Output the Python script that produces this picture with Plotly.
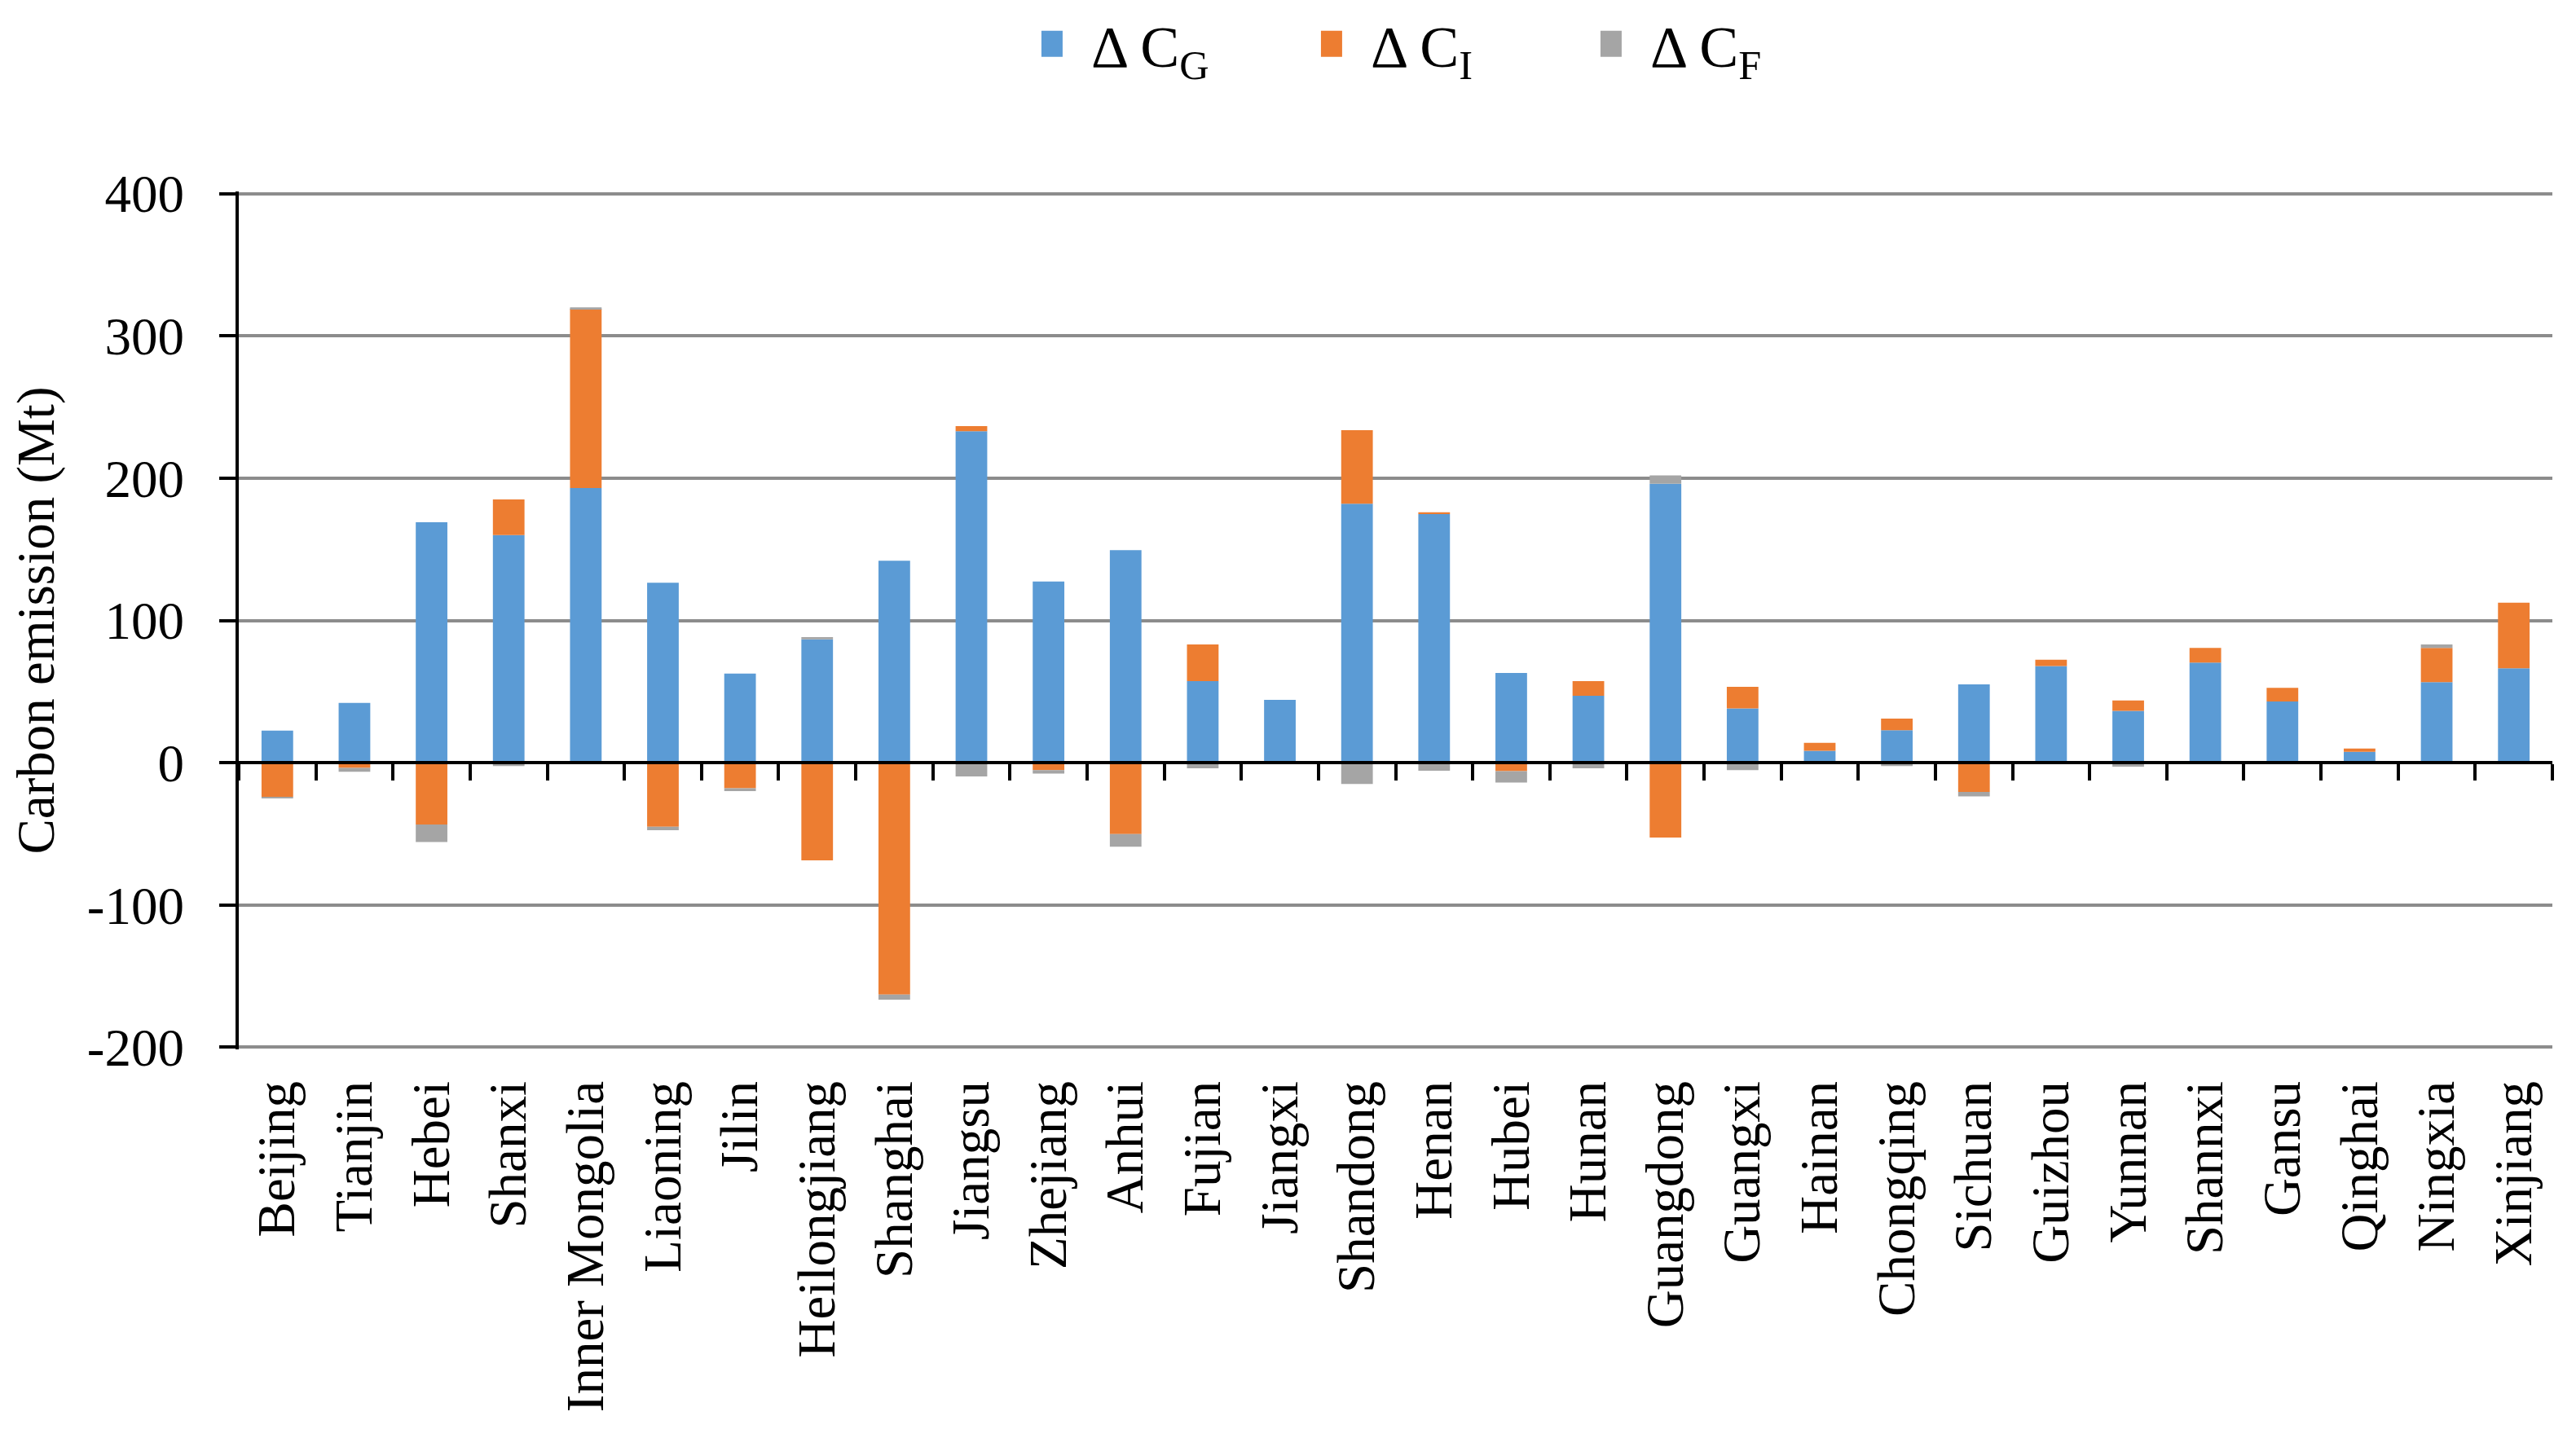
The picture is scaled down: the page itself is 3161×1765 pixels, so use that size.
import plotly.graph_objects as go

regions = ["Beijing", "Tianjin", "Hebei", "Shanxi", "Inner Mongolia", "Liaoning", "Jilin",
           "Heilongjiang", "Shanghai", "Jiangsu", "Zhejiang", "Anhui", "Fujian", "Jiangxi",
           "Shandong", "Henan", "Hubei", "Hunan", "Guangdong", "Guangxi", "Hainan",
           "Chongqing", "Sichuan", "Guizhou", "Yunnan", "Shannxi", "Gansu", "Qinghai",
           "Ningxia", "Xinjiang"]

delta_CG = [22.5, 42, 169, 160, 193, 126.5, 62.7, 86.7, 142, 233, 127.3, 149.4, 57.4, 44.2,
            182, 174.7, 63, 47, 196, 38.2, 8.4, 22.9, 55, 67.9, 36.5, 70.3, 43, 7.6, 56.6, 66.3]
delta_CI = [-24, -3.6, -43.4, 25, 126, -45, -18, -68.7, -163, 3.6, -5.2, -50.2, 25.7, 0,
            51.7, 1.3, -6, 10.4, -52.6, 15.2, 5.6, 8.1, -20.5, 4.4, 7.3, 10.4, 9.6, 2.4, 24.1, 46.1]
delta_CF = [-1, -2.8, -12.4, -2.4, 1, -2.4, -2, 1.6, -3.6, -9.6, -2.4, -8.8, -4, 0,
            -15, -5.6, -8, -4, 6, -5.2, 0, -2.4, -3.2, -1, -2.8, 0, 0, 0, 2.4, 0]

series_names = ["Δ C<sub>G</sub>", "Δ C<sub>I</sub>", "Δ C<sub>F</sub>"]
series_colors = ["#5B9BD5", "#ED7D31", "#A5A5A5"]

y_tickvals = [-200, -100, 0, 100, 200, 300, 400]
y_ticktext = ["-200", "-100", "0", "100", "200", "300", "400"]

FONT = "Liberation Serif"
Y_MIN, Y_MAX = -201.5, 401.5

fig = go.Figure()
for name, vals, col in zip(series_names, [delta_CG, delta_CI, delta_CF], series_colors):
    fig.add_trace(go.Bar(x=regions, y=vals, name=name, marker=dict(color=col, line=dict(width=0))))

# invisible helper trace so the zero-line axis carries the categories
fig.add_trace(go.Scatter(x=regions, y=[None] * len(regions), xaxis="x2", yaxis="y",
                         showlegend=False, hoverinfo="skip", mode="markers"))

W, H = 3161, 1765
L, R, T, B = 285, 37, 227, 485

fig.update_layout(
    width=W, height=H,
    margin=dict(l=L, r=R, t=T, b=B, autoexpand=False),
    paper_bgcolor="white", plot_bgcolor="white",
    barmode="relative", bargap=0.59,
    font=dict(family=FONT, size=65, color="black"),
    legend=dict(orientation="h", x=0.3346, xanchor="left", y=1.172, yanchor="middle",
                font=dict(family=FONT, size=72, color="black"), itemwidth=86,
                entrywidth=242, entrywidthmode="pixels", traceorder="normal"),
    xaxis=dict(type="category", categoryorder="array", categoryarray=regions,
               range=[-0.5, len(regions) - 0.5], showline=False, showgrid=False,
               ticks="", tickangle=-90, ticklabelstandoff=25,
               tickfont=dict(family=FONT, size=65, color="black"), automargin=False),
    xaxis2=dict(type="category", categoryorder="array", categoryarray=regions,
                range=[-0.5, len(regions) - 0.5], overlaying="x", anchor="free",
                position=(0 - Y_MIN) / (Y_MAX - Y_MIN), showline=True, linecolor="black",
                linewidth=4, ticks="outside", tickson="boundaries", ticklen=20, tickwidth=4,
                tickcolor="black", showticklabels=False, showgrid=False, automargin=False),
    yaxis=dict(range=[Y_MIN, Y_MAX], tickvals=y_tickvals, ticktext=y_ticktext,
               showline=True, linecolor="black",
               linewidth=4, ticks="outside", ticklen=20, tickwidth=4, tickcolor="black",
               showgrid=True, gridcolor="#8C8C8C", gridwidth=3.5, zeroline=False,
               ticklabelstandoff=30,
               tickfont=dict(family=FONT, size=65, color="black"),
               title=dict(text="Carbon emission (Mt)", standoff=40,
                          font=dict(family=FONT, size=65, color="black")),
               automargin=False),
)

# enlarge the legend swatches to the reference's size
post = """
var gd = document.getElementById('{plot_id}');
function bigSwatches(){
  gd.querySelectorAll('g.legendpoints path').forEach(function(p){
    p.setAttribute('d', 'M13,16H-13V-16H13Z');
  });
}
bigSwatches();
setTimeout(bigSwatches, 0);
setTimeout(bigSwatches, 100);
setTimeout(bigSwatches, 500);
if (gd.on) { gd.on('plotly_afterplot', bigSwatches); }
"""

fig.write_html("out.html", post_script=post)
